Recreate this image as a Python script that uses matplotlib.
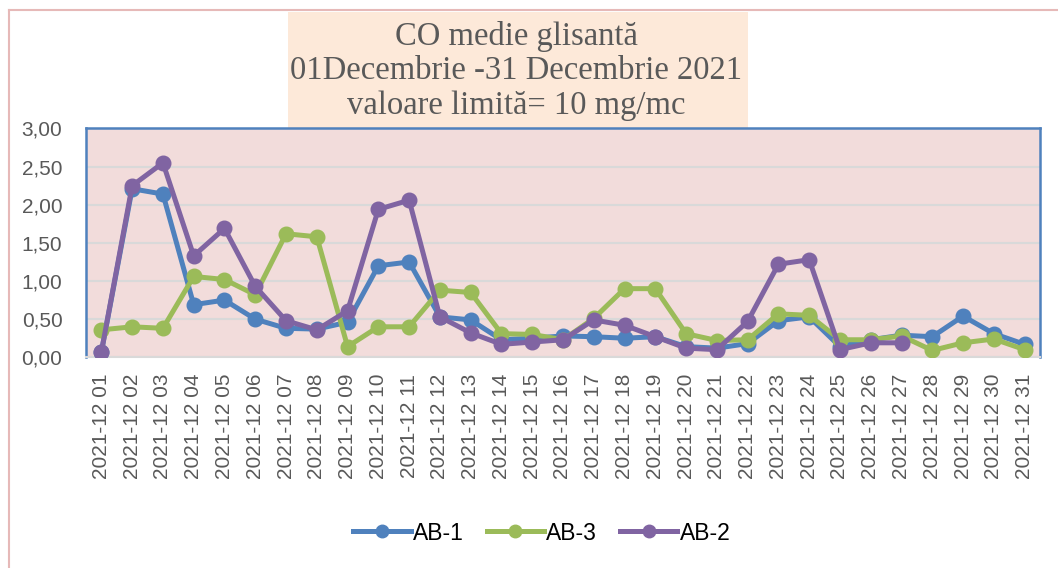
import matplotlib
matplotlib.use("Agg")
import matplotlib.pyplot as plt
import numpy as np
from matplotlib.patches import Rectangle
from matplotlib.lines import Line2D

days = [f"2021-12 {d:02d}" for d in range(1, 32)]

ab1 = [0.07, 2.21, 2.14, 0.69, 0.75, 0.50, 0.38, 0.37, 0.46, 1.20, 1.25,
       0.53, 0.49, 0.23, 0.25, 0.28, 0.27, 0.25, 0.27, 0.14, 0.12,
       0.18, 0.48, 0.53, 0.14, 0.23, 0.29, 0.27, 0.54, 0.31, 0.17]
ab3 = [0.36, 0.40, 0.38, 1.06, 1.02, 0.82, 1.62, 1.58, 0.14, 0.40, 0.40,
       0.88, 0.85, 0.31, 0.30, 0.23, 0.51, 0.90, 0.90, 0.31, 0.22,
       0.23, 0.57, 0.55, 0.23, 0.23, 0.28, 0.09, 0.19, 0.24, 0.10]
ab2 = [0.07, 2.25, 2.55, 1.33, 1.69, 0.93, 0.48, 0.36, 0.61, 1.94, 2.06,
       0.53, 0.32, 0.17, 0.20, 0.23, 0.49, 0.42, 0.27, 0.12, 0.10,
       0.47, 1.22, 1.28, 0.10, 0.19, 0.19, np.nan, np.nan, np.nan, np.nan]

series = [("AB-1", ab1, "#4F81BD"), ("AB-3", ab3, "#9BBB59"), ("AB-2", ab2, "#8064A2")]
yticks = [0.0, 0.5, 1.0, 1.5, 2.0, 2.5, 3.0]
ytick_labels = ["0,00", "0,50", "1,00", "1,50", "2,00", "2,50", "3,00"]
title_lines = ["CO medie glisantă", "01Decembrie -31 Decembrie 2021", "valoare limită= 10 mg/mc"]

W, H = 1058, 568
fig = plt.figure(figsize=(W / 100, H / 100), dpi=100)
fig.patch.set_facecolor("white")

# outer border (pink)
fig.add_artist(Line2D([9 / W, 9 / W], [0, 1 - 10 / H], color="#E6B9B8", lw=1.5))
fig.add_artist(Line2D([9 / W, 1], [1 - 10 / H, 1 - 10 / H], color="#E6B9B8", lw=1.5))

# title box
fig.add_artist(Rectangle((288 / W, 1 - 128 / H), 460 / W, 116 / H,
                         transform=fig.transFigure, facecolor="#FDE9D9",
                         edgecolor="none", zorder=0))
for i, line in enumerate(title_lines):
    fig.text(516 / W, 1 - (36 + 35 * i) / H, line, ha="center", va="center",
             fontsize=23.5, color="#595959", family="Liberation Serif")

left, right, top, bottom = 86, 1040, 128.5, 357.3
ax = fig.add_axes([left / W, 1 - bottom / H, (right - left) / W, (bottom - top) / H])
ax.set_facecolor("#F2DCDB")

x = np.arange(len(days))
for name, vals, col in series:
    ax.plot(x, vals, color=col, lw=3.6, marker="o", markersize=10.5, label=name,
            solid_joinstyle="round", zorder=3)

ax.set_xlim(-0.5, len(days) - 0.5)
ax.set_ylim(0, 3)
ax.set_yticks(yticks)
ax.set_yticklabels(ytick_labels, fontsize=15, color="#595959", family="Liberation Sans")
ax.set_xticks(x)
ax.set_xticklabels(days, rotation=90, fontsize=15, color="#595959",
                   family="Liberation Sans", va="top", ha="center")
ax.tick_params(axis="y", length=0, pad=17)
ax.tick_params(axis="x", length=0, pad=12)
ax.grid(axis="y", color="#D9D9D9", lw=1.5, zorder=1)
ax.set_axisbelow(True)
for s in ["left", "top", "right"]:
    ax.spines[s].set_color("#4F81BD")
    ax.spines[s].set_linewidth(1.8)
ax.spines["bottom"].set_color("#D9D9D9")
ax.spines["bottom"].set_linewidth(1.5)

handles = [Line2D([], [], color=c, lw=3.6, marker="o", markersize=9) for _, _, c in series]
leg = fig.legend(handles, [n for n, _, _ in series], loc="center",
                 bbox_to_anchor=(542 / W, 1 - 533 / H), ncol=3, frameon=False,
                 prop={"family": "Liberation Sans", "size": 16.5},
                 handlelength=2.5, handletextpad=0.1, columnspacing=1.0)

fig.savefig("out.png", dpi=100)
